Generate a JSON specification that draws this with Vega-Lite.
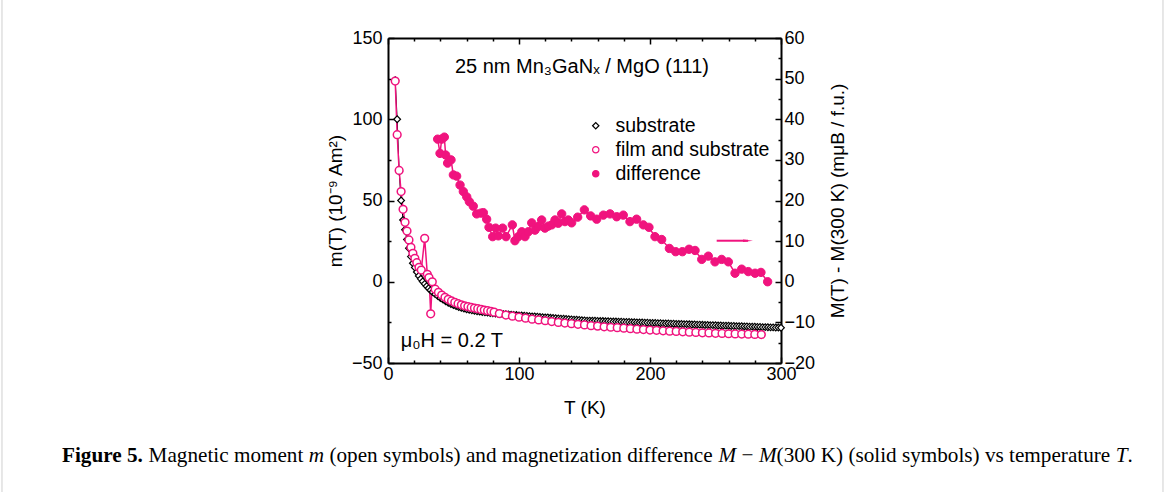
{
"$schema": "https://vega.github.io/schema/vega-lite/v6.json",
"width": 393, "height": 325,
"autosize": {"type": "none"},
"padding": {"left": 388, "top": 38, "right": 384, "bottom": 129},
"background": "white",
"config": {
 "view": {"stroke": null},
 "font": "Liberation Sans",
 "axis": {"domainColor": "black", "domainWidth": 2, "tickColor": "black", "tickWidth": 1.5, "tickCount": 100, "labelFontSize": 18, "labelColor": "black", "labelFont": "Liberation Sans", "titleFont": "Liberation Sans", "titleFontSize": 19, "titleFontWeight": "normal", "titleColor": "black", "grid": false, "labelOverlap": false, "labelFlush": false, "labelBound": false},
 "legend": {"orient": "none", "legendX": 198, "legendY": 78, "labelFontSize": 19.5, "labelFont": "Liberation Sans", "labelColor": "black", "symbolSize": 40, "symbolStrokeWidth": 1.2, "rowPadding": 3, "labelOffset": 10, "padding": 0}
},
"datasets": {
 "substrate": [
  {"T":5.5,"m":124},{"T":7,"m":100},{"T":8.5,"m":68},{"T":10,"m":50},{"T":11.5,"m":38},{"T":13,"m":32},{"T":14.5,"m":26},{"T":16,"m":20.6},{"T":17.5,"m":15.5},{"T":19,"m":11.4},{"T":20.5,"m":8.8},{"T":22,"m":6},{"T":23.5,"m":3.6},{"T":25,"m":1.8},{"T":26.5,"m":0.2},{"T":28,"m":-1.3},{"T":29.5,"m":-2.7},{"T":31,"m":-4},{"T":32.5,"m":-5.2},{"T":34,"m":-6.3},{"T":36,"m":-7.6},{"T":38,"m":-8.8},{"T":40,"m":-10},{"T":42,"m":-11},{"T":44,"m":-12},{"T":46,"m":-12.9},{"T":48,"m":-13.7},{"T":50,"m":-14.4},{"T":52,"m":-15},{"T":54,"m":-15.6},{"T":56,"m":-16.1},{"T":58,"m":-16.5},{"T":60,"m":-16.9},{"T":62,"m":-17.3},{"T":64,"m":-17.6},{"T":66,"m":-17.9},{"T":68,"m":-18.2},{"T":70,"m":-18.4},{"T":72,"m":-18.6},{"T":74,"m":-18.8},{"T":76,"m":-19},{"T":78,"m":-19.2},{"T":80,"m":-19.4},
  {"T":82,"m":-19.5},{"T":84,"m":-19.7},{"T":86,"m":-19.8},{"T":88,"m":-19.9},{"T":90,"m":-20},{"T":92,"m":-20.2},{"T":94,"m":-20.3},{"T":96,"m":-20.4},{"T":98,"m":-20.5},{"T":100,"m":-20.7},{"T":102,"m":-20.8},{"T":104,"m":-20.9},{"T":106,"m":-21},{"T":108,"m":-21.2},{"T":110,"m":-21.3},{"T":112,"m":-21.4},{"T":114,"m":-21.5},{"T":116,"m":-21.7},{"T":118,"m":-21.8},{"T":120,"m":-21.9},{"T":122,"m":-22},{"T":124,"m":-22.2},{"T":126,"m":-22.3},{"T":128,"m":-22.4},{"T":130,"m":-22.6},{"T":132,"m":-22.7},{"T":134,"m":-22.8},{"T":136,"m":-22.9},{"T":138,"m":-23},{"T":140,"m":-23.2},{"T":142,"m":-23.3},{"T":144,"m":-23.4},{"T":146,"m":-23.5},{"T":148,"m":-23.7},{"T":150,"m":-23.8},
  {"T":152,"m":-23.9},{"T":154,"m":-23.9},{"T":156,"m":-24},{"T":158,"m":-24},{"T":160,"m":-24.1},{"T":162,"m":-24.2},{"T":164,"m":-24.2},{"T":166,"m":-24.3},{"T":168,"m":-24.3},{"T":170,"m":-24.4},{"T":172,"m":-24.5},{"T":174,"m":-24.5},{"T":176,"m":-24.6},{"T":178,"m":-24.6},{"T":180,"m":-24.7},{"T":182,"m":-24.8},{"T":184,"m":-24.8},{"T":186,"m":-24.9},{"T":188,"m":-24.9},{"T":190,"m":-25},{"T":192,"m":-25.1},{"T":194,"m":-25.1},{"T":196,"m":-25.2},{"T":198,"m":-25.2},{"T":200,"m":-25.3},{"T":202,"m":-25.4},{"T":204,"m":-25.4},{"T":206,"m":-25.5},{"T":208,"m":-25.5},{"T":210,"m":-25.6},{"T":212,"m":-25.7},{"T":214,"m":-25.7},{"T":216,"m":-25.8},{"T":218,"m":-25.8},{"T":220,"m":-25.9},{"T":222,"m":-26},{"T":224,"m":-26},{"T":226,"m":-26.1},{"T":228,"m":-26.1},{"T":230,"m":-26.2},{"T":232,"m":-26.3},{"T":234,"m":-26.3},{"T":236,"m":-26.4},{"T":238,"m":-26.4},{"T":240,"m":-26.5},{"T":242,"m":-26.6},{"T":244,"m":-26.6},{"T":246,"m":-26.7},{"T":248,"m":-26.7},{"T":250,"m":-26.8},{"T":252,"m":-26.9},{"T":254,"m":-26.9},{"T":256,"m":-27},{"T":258,"m":-27},{"T":260,"m":-27.1},{"T":262,"m":-27.2},{"T":264,"m":-27.2},{"T":266,"m":-27.3},{"T":268,"m":-27.3},{"T":270,"m":-27.4},{"T":272,"m":-27.5},{"T":274,"m":-27.5},{"T":276,"m":-27.6},{"T":278,"m":-27.6},{"T":280,"m":-27.7},{"T":282,"m":-27.8},{"T":284,"m":-27.8},{"T":286,"m":-27.9},{"T":288,"m":-27.9},{"T":290,"m":-28},{"T":292,"m":-28.1},{"T":294,"m":-28.1},{"T":296,"m":-28.2},{"T":298,"m":-28.2},{"T":300,"m":-28.3}
 ],
 "film": [
  {"T":5.5,"m":123.5},{"T":7,"m":90.5},{"T":8.5,"m":68.5},{"T":10,"m":55.5},{"T":11.5,"m":44.6},{"T":13,"m":36.6},{"T":14.5,"m":31.2},{"T":16,"m":25.7},{"T":17.5,"m":21.2},{"T":19,"m":17.5},{"T":20.5,"m":14.4},{"T":22,"m":11.7},{"T":23.7,"m":8.9},{"T":25.4,"m":7.2},{"T":28,"m":26.7},{"T":30,"m":4.6},{"T":31.3,"m":2.6},{"T":32.6,"m":-19.7},{"T":33.8,"m":0},{"T":36,"m":-4.6},{"T":38.5,"m":-6.5},{"T":41,"m":-8.2},{"T":43.5,"m":-9.6},{"T":46,"m":-10.8},{"T":48.5,"m":-11.8},{"T":51,"m":-12.7},{"T":53.5,"m":-13.5},{"T":56,"m":-14.2},{"T":58.5,"m":-14.8},{"T":61,"m":-15.3},{"T":63.5,"m":-15.8},{"T":66,"m":-16.2},{"T":68.5,"m":-16.6},{"T":71,"m":-17},{"T":73.5,"m":-17.4},{"T":76,"m":-17.8},{"T":78.5,"m":-18.2},{"T":81,"m":-18.7},{"T":85,"m":-19.6},{"T":90,"m":-20.5},{"T":95,"m":-21.2},{"T":100,"m":-21.8},{"T":105,"m":-22.4},{"T":110,"m":-23},{"T":115,"m":-23.5},{"T":120,"m":-24},{"T":125,"m":-24.5},{"T":130,"m":-25},{"T":135,"m":-25.4},{"T":140,"m":-25.8},{"T":145,"m":-26.2},{"T":150,"m":-26.6},{"T":155,"m":-27},{"T":160,"m":-27.3},{"T":165,"m":-27.7},{"T":170,"m":-28},{"T":175,"m":-28.3},{"T":180,"m":-28.6},{"T":185,"m":-28.9},{"T":190,"m":-29.2},{"T":195,"m":-29.4},{"T":200,"m":-29.7},{"T":205,"m":-29.9},{"T":210,"m":-30.2},{"T":215,"m":-30.4},{"T":220,"m":-30.6},{"T":225,"m":-30.8},{"T":230,"m":-31},{"T":235,"m":-31.2},{"T":240,"m":-31.4},{"T":245,"m":-31.5},{"T":250,"m":-31.7},{"T":255,"m":-31.8},{"T":260,"m":-32},{"T":265,"m":-32.1},{"T":270,"m":-32.2},{"T":275,"m":-32.3},{"T":280,"m":-32.4},{"T":285,"m":-32.5}
 ],
 "diff": [
  {"T":37.9,"D":35.1},{"T":39.7,"D":31.6},{"T":41,"D":35.1},{"T":43,"D":35.6},{"T":44,"D":31.2},{"T":45.5,"D":29.2},{"T":48.1,"D":30},{"T":49.9,"D":26.3},{"T":52.4,"D":26},{"T":55,"D":23.8},{"T":57.5,"D":22.2},{"T":60.1,"D":20.9},{"T":62.1,"D":19.7},{"T":65.1,"D":18.6},{"T":67.7,"D":16.7},{"T":71,"D":16.9},{"T":72.8,"D":17},{"T":75.3,"D":15.4},{"T":77.1,"D":13.4},{"T":79.9,"D":11.1},{"T":82.2,"D":13.2},{"T":84.2,"D":11.3},{"T":87.5,"D":13.2},{"T":90.1,"D":11.1},{"T":94.9,"D":14},{"T":96.9,"D":10.1},{"T":99.5,"D":11.1},{"T":102.1,"D":12.3},{"T":104.6,"D":11.1},{"T":107.1,"D":12.3},{"T":109.7,"D":14.5},{"T":112.2,"D":12.7},{"T":114.7,"D":13.6},{"T":117.3,"D":15.2},{"T":119.8,"D":13.2},{"T":122.4,"D":13.7},{"T":125,"D":14},{"T":127.5,"D":15.2},{"T":130,"D":14.4},{"T":132.6,"D":16.7},{"T":135.1,"D":14.8},{"T":137.6,"D":15.2},{"T":140.2,"D":14.5},{"T":144.8,"D":15.9},{"T":149.9,"D":17.7},{"T":154.7,"D":16.2},{"T":159.3,"D":15.4},{"T":164.4,"D":16.4},{"T":169.5,"D":16.7},{"T":174.6,"D":16},{"T":179.6,"D":16.4},{"T":184.7,"D":14.8},{"T":189.8,"D":15.4},{"T":194.9,"D":14},{"T":199.2,"D":13.4},{"T":203.8,"D":11.1},{"T":208.9,"D":10.4},{"T":214.8,"D":8.2},{"T":219.6,"D":7.4},{"T":224.7,"D":7.4},{"T":229.8,"D":8},{"T":234.4,"D":7.7},{"T":239.5,"D":5.5},{"T":244.5,"D":6.3},{"T":249.6,"D":4.9},{"T":254.7,"D":5.5},{"T":259.8,"D":4.9},{"T":264.9,"D":2.1},{"T":270,"D":3.1},{"T":275,"D":2.5},{"T":280.2,"D":2.1},{"T":284.7,"D":2.3},{"T":289.8,"D":0}
 ],
 "arrow": [{"T":250.9,"T2":274.8,"D":10.1}],
 "notes": [
  {"T":51.1,"m":132.2,"text":"25 nm Mn₃GaNₓ / MgO (111)"},
  {"T":9.7,"m":-36.5,"text":"μ₀H = 0.2 T"}
 ],
 "frame": [
  {"T":-294.66,"m1":173.4,"m2":-129.4},
  {"T":591.6,"m1":173.4,"m2":-129.4}
 ],
 "capBold": [{"T":-248.85,"m":-107.2,"text":"Figure 5."}],
 "capItalic": [
  {"T":-60.46,"m":-107.2,"text":"m"},
  {"T":252.37,"m":-107.2,"text":"M"},
  {"T":283.13,"m":-107.2,"text":"M"},
  {"T":555.57,"m":-107.2,"text":"T"}
 ],
 "capNormal": [
  {"T":-182.75,"m":-107.2,"text":"Magnetic moment"},
  {"T":-44.73,"m":-107.2,"text":"(open symbols) and magnetization difference"},
  {"T":269.92,"m":-107.2,"text":"−"},
  {"T":296.64,"m":-107.2,"text":"(300 K) (solid symbols) vs temperature"},
  {"T":564.58,"m":-107.2,"text":"."}
 ]
},
"layer": [
 {
  "layer": [
   {"data": {"name": "frame"}, "mark": {"type": "rule", "color": "#cfcfcf", "strokeWidth": 1},
    "encoding": {"x": {"field": "T", "type": "quantitative", "scale": {"domain": [0, 300], "nice": false}}, "y": {"field": "m1", "type": "quantitative"}, "y2": {"field": "m2"}}},
   {"data": {"name": "substrate"}, "mark": {"type": "line", "color": "black", "strokeWidth": 1},
    "encoding": {
     "x": {"field": "T", "type": "quantitative", "scale": {"domain": [0, 300], "nice": false},
       "axis": {"orient": "bottom", "values": [0,20,40,60,80,100,120,140,160,180,200,220,240,260,280,300], "tickCount": 100, "labelExpr": "datum.value % 100 === 0 ? datum.label : ''", "labelOverlap": false, "tickSize": {"condition": {"test": "datum.value % 100 === 0", "value": -6}, "value": -3}, "labelPadding": 8, "title": "T (K)", "titlePadding": 12}},
     "y": {"field": "m", "type": "quantitative", "scale": {"domain": [-50, 150], "nice": false},
       "axis": {"orient": "left", "values": [-50,-25,0,25,50,75,100,125,150], "tickCount": 100, "labelExpr": "datum.value % 50 === 0 ? datum.label : ''", "labelOverlap": false, "tickSize": {"condition": {"test": "datum.value % 50 === 0", "value": -6}, "value": -3}, "labelPadding": 12, "title": "m(T)  (10⁻⁹ Am²)", "titlePadding": 6}}
    }},
   {"data": {"name": "film"}, "mark": {"type": "line", "color": "#f0137e", "strokeWidth": 1.5},
    "encoding": {"x": {"field": "T", "type": "quantitative", "scale": {"domain": [0, 300], "nice": false}}, "y": {"field": "m", "type": "quantitative"}}},
   {"data": {"name": "substrate"}, "mark": {"type": "point", "size": 45, "strokeWidth": 1.2, "opacity": 1},
    "encoding": {"x": {"field": "T", "type": "quantitative", "scale": {"domain": [0, 300], "nice": false}}, "y": {"field": "m", "type": "quantitative"},
     "shape": {"datum": "substrate", "type": "nominal", "scale": {"domain": ["substrate", "film and substrate", "difference"], "range": ["diamond", "circle", "circle"]}, "legend": {"title": null}},
     "stroke": {"datum": "substrate", "type": "nominal", "scale": {"domain": ["substrate", "film and substrate", "difference"], "range": ["black", "#f0137e", "#f0137e"]}, "legend": {"title": null}},
     "fill": {"datum": "substrate", "type": "nominal", "scale": {"domain": ["substrate", "film and substrate", "difference"], "range": ["white", "white", "#f0137e"]}, "legend": {"title": null}}}},
   {"data": {"name": "film"}, "mark": {"type": "point", "size": 60, "strokeWidth": 1.5, "opacity": 1},
    "encoding": {"x": {"field": "T", "type": "quantitative", "scale": {"domain": [0, 300], "nice": false}}, "y": {"field": "m", "type": "quantitative"},
     "shape": {"datum": "film and substrate", "type": "nominal"},
     "stroke": {"datum": "film and substrate", "type": "nominal"},
     "fill": {"datum": "film and substrate", "type": "nominal"}}},
   {"data": {"name": "notes"}, "mark": {"type": "text", "align": "left", "baseline": "middle", "fontSize": 20, "font": "Liberation Sans", "color": "black"},
    "encoding": {"x": {"field": "T", "type": "quantitative", "scale": {"domain": [0, 300], "nice": false}}, "y": {"field": "m", "type": "quantitative"}, "text": {"field": "text"}}},
   {"data": {"name": "capBold"}, "mark": {"type": "text", "align": "left", "baseline": "middle", "fontSize": 21.2, "font": "Liberation Serif", "fontWeight": "bold", "color": "black"},
    "encoding": {"x": {"field": "T", "type": "quantitative", "scale": {"domain": [0, 300], "nice": false}}, "y": {"field": "m", "type": "quantitative"}, "text": {"field": "text"}}},
   {"data": {"name": "capItalic"}, "mark": {"type": "text", "align": "left", "baseline": "middle", "fontSize": 21.2, "font": "Liberation Serif", "fontStyle": "italic", "color": "black"},
    "encoding": {"x": {"field": "T", "type": "quantitative", "scale": {"domain": [0, 300], "nice": false}}, "y": {"field": "m", "type": "quantitative"}, "text": {"field": "text"}}},
   {"data": {"name": "capNormal"}, "mark": {"type": "text", "align": "left", "baseline": "middle", "fontSize": 21.2, "font": "Liberation Serif", "color": "black"},
    "encoding": {"x": {"field": "T", "type": "quantitative", "scale": {"domain": [0, 300], "nice": false}}, "y": {"field": "m", "type": "quantitative"}, "text": {"field": "text"}}}
  ]
 },
 {
  "layer": [
   {"data": {"name": "diff"}, "mark": {"type": "line", "color": "#f0137e", "strokeWidth": 1.5},
    "encoding": {
     "x": {"field": "T", "type": "quantitative", "scale": {"domain": [0, 300], "nice": false},
       "axis": {"orient": "top", "values": [0,20,40,60,80,100,120,140,160,180,200,220,240,260,280,300], "tickCount": 100, "labels": false, "tickSize": {"condition": {"test": "datum.value % 100 === 0", "value": -6}, "value": -3}, "title": null}},
     "y": {"field": "D", "type": "quantitative", "scale": {"domain": [-20, 60], "nice": false},
       "axis": {"orient": "right", "values": [-20,-15,-10,-5,0,5,10,15,20,25,30,35,40,45,50,55,60], "tickCount": 100, "labelExpr": "datum.value % 10 === 0 ? datum.label : ''", "labelOverlap": false, "tickSize": {"condition": {"test": "datum.value % 10 === 0", "value": -6}, "value": -3}, "labelPadding": 9, "title": "M(T) - M(300 K)  (mμB / f.u.)", "titleAngle": 270, "titleBaseline": "top", "titlePadding": 14}}
    }},
   {"data": {"name": "diff"}, "mark": {"type": "point", "size": 70, "strokeWidth": 1, "opacity": 1},
    "encoding": {"x": {"field": "T", "type": "quantitative", "scale": {"domain": [0, 300], "nice": false}}, "y": {"field": "D", "type": "quantitative"},
     "shape": {"datum": "difference", "type": "nominal"},
     "stroke": {"datum": "difference", "type": "nominal"},
     "fill": {"datum": "difference", "type": "nominal"}}},
   {"data": {"name": "arrow"}, "mark": {"type": "rule", "color": "#f0137e", "strokeWidth": 2},
    "encoding": {"x": {"field": "T", "type": "quantitative", "scale": {"domain": [0, 300], "nice": false}}, "x2": {"field": "T2"}, "y": {"field": "D", "type": "quantitative"}}},
   {"data": {"name": "arrow"}, "mark": {"type": "point", "shape": "M-1,-0.25L1,0L-1,0.25Z", "size": 100, "filled": true, "color": "#f0137e", "opacity": 1},
    "encoding": {"x": {"field": "T2", "type": "quantitative", "scale": {"domain": [0, 300], "nice": false}}, "y": {"field": "D", "type": "quantitative"}}}
  ]
 }
],
"resolve": {"scale": {"y": "independent"}, "axis": {"x": "independent", "y": "independent"}}
}
